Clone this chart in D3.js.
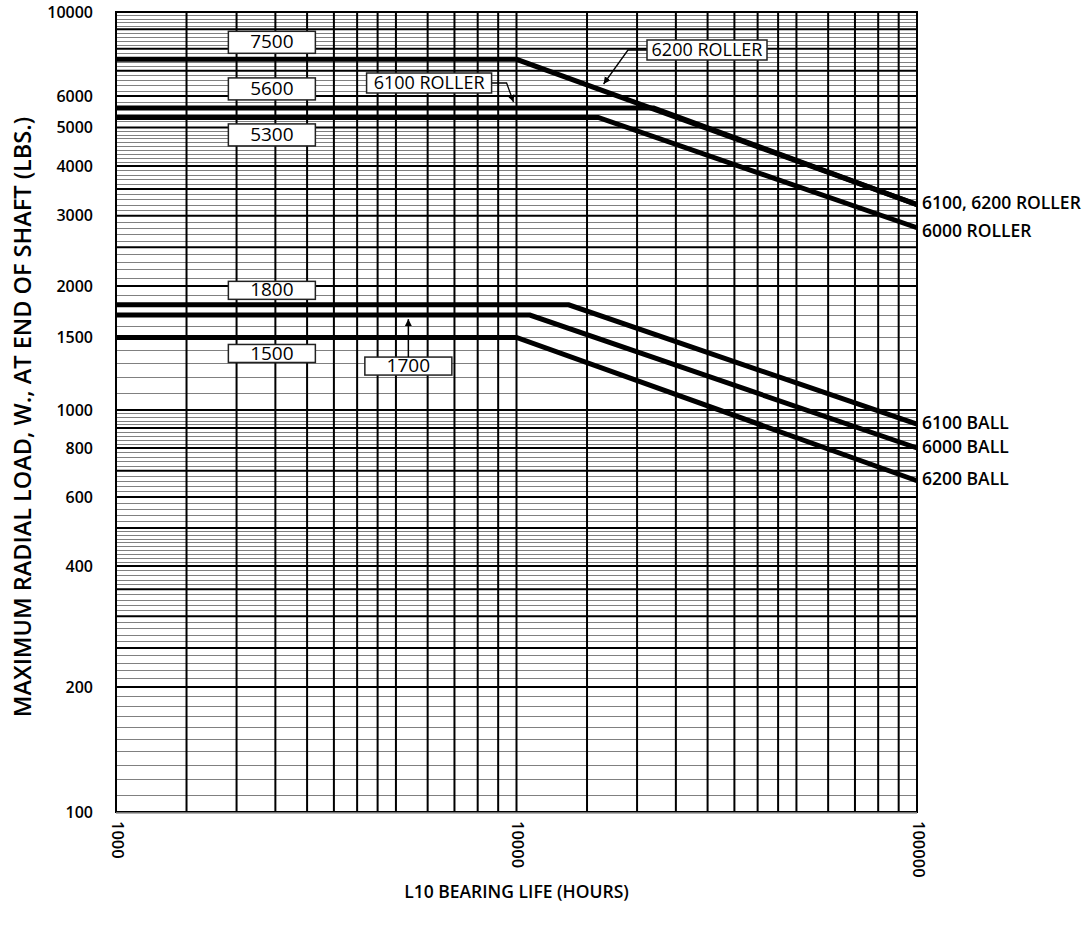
<!DOCTYPE html>
<html><head><meta charset="utf-8">
<script src="https://cdn.jsdelivr.net/npm/d3@7"></script>
<style>
body{margin:0;background:#fff}
text{font-family:"Open Sans","Noto Sans",sans-serif;fill:#000}
</style>
</head><body>
<svg id="chart" width="1088" height="930"></svg>
<script>
// ---------- DATA ----------
const xTickLabels = [1000, 10000, 100000];
const yTickLabels = [100, 200, 400, 600, 800, 1000, 1500, 2000, 3000, 4000, 5000, 6000, 10000];

// [hours, load] per bearing curve
const roller6200 = [[1000, 7500], [10000, 7500], [100000, 3200]];
const roller6100 = [[1000, 5600], [22000, 5600], [100000, 3200]];
const roller6000 = [[1000, 5300], [16000, 5300], [100000, 2800]];
const ball6100   = [[1000, 1800], [13500, 1800], [100000, 920]];
const ball6000   = [[1000, 1700], [10800, 1700], [100000, 800]];
const ball6200   = [[1000, 1500], [10000, 1500], [100000, 660]];

const seriesNames = ["6200 ROLLER", "6100 ROLLER", "6000 ROLLER", "6100 BALL", "6000 BALL", "6200 BALL"];
const endLabels = ["6100, 6200 ROLLER", "6000 ROLLER", "6100 BALL", "6000 BALL", "6200 BALL"];
const endLabelValues = [3200, 2800, 920, 800, 660];
const plateauLabels = ["7500", "5600", "5300", "1800", "1500", "1700"];
const plateauValues = [7500, 5600, 5300, 1800, 1500, 1700];

// grid multipliers within a decade
const xGridSteps = [1, 1.5, 2, 2.5, 3, 3.5, 4, 4.5, 5, 6, 7, 8, 9];
const yMajorSteps = [1, 2, 2.5, 3, 3.5, 4, 5, 6, 7, 8, 9];

// ---------- SCALES ----------
const svg = d3.select("#chart");
const x = d3.scaleLog().domain([1000, 100000]).range([116, 917]);
// printed log paper: piecewise log scale following the printed ruling
const y = d3.scaleLog()
  .domain([100, 200, 400, 1000, 2000, 4000, 6000, 10000])
  .range([812, 687, 566, 410, 286, 166, 96, 12]);

// ---------- GRID ----------
const decadesX = [1000, 10000];
const xGrid = [];
decadesX.forEach(d => xGridSteps.forEach(s => xGrid.push(d * s)));
xGrid.push(100000);

const decadesY = [100, 1000];
const yMajor = [];
decadesY.forEach(d => yMajorSteps.forEach(s => yMajor.push(d * s)));
yMajor.push(10000);

const yMinor = [];
decadesY.forEach(d => {
  for (let i = 11; i < 50; i++) if (!yMajorSteps.includes(i / 10)) yMinor.push(d * i / 10);
  for (let i = 52; i < 100; i += 2) if (!yMajorSteps.includes(i / 10)) yMinor.push(d * i / 10);
});

const grid = svg.append("g");
grid.selectAll(".ymin").data(yMinor).join("line")
  .attr("x1", x(1000)).attr("x2", x(100000))
  .attr("y1", d => Math.round(y(d)) + 0.5).attr("y2", d => Math.round(y(d)) + 0.5)
  .attr("stroke", "#808080").attr("stroke-width", 1);
grid.selectAll(".ymaj").data(yMajor).join("line")
  .attr("x1", x(1000)).attr("x2", x(100000))
  .attr("y1", d => y(d)).attr("y2", d => y(d))
  .attr("stroke", "#000").attr("stroke-width", 2);
grid.selectAll(".xg").data(xGrid).join("line")
  .attr("x1", d => x(d)).attr("x2", d => x(d))
  .attr("y1", y(10000)).attr("y2", y(100))
  .attr("stroke", "#000").attr("stroke-width", 2);
// frame
svg.append("rect").attr("x", x(1000)).attr("y", y(10000))
  .attr("width", x(100000) - x(1000)).attr("height", y(100) - y(10000))
  .attr("fill", "none").attr("stroke", "#000").attr("stroke-width", 2);
svg.append("line").attr("x1", x(1000)).attr("x2", x(100000))
  .attr("y1", y(100) + 1).attr("y2", y(100) + 1)
  .attr("stroke", "#999").attr("stroke-width", 1.5);

// ---------- AXES LABELS ----------
const yAxis = d3.axisLeft(y).tickValues(yTickLabels).tickFormat(d3.format("d")).tickSize(0).tickPadding(23);
const gy = svg.append("g").attr("transform", `translate(${x(1000)},0)`).call(yAxis);
gy.select(".domain").remove();
gy.selectAll("text").attr("font-size", 16).attr("font-weight", 600)
  .attr("font-family", '"Open Sans","Noto Sans",sans-serif').attr("fill", "#000");

const gx = svg.append("g");
gx.selectAll("text").data(xTickLabels).join("text")
  .attr("transform", d => `translate(${x(d)},${y(100) + 9}) rotate(90)`)
  .attr("dominant-baseline", "middle").attr("font-size", 16.5).attr("font-weight", 600)
  .text(d => d);

svg.append("text").attr("transform", `translate(25,${(y(10000) + y(100)) / 2 + 5}) rotate(-90)`)
  .attr("text-anchor", "middle").attr("dominant-baseline", "middle")
  .attr("font-size", 23.5).attr("font-weight", 600)
  .text("MAXIMUM RADIAL LOAD, W., AT END OF SHAFT (LBS.)");
svg.append("text").attr("x", (x(1000) + x(100000)) / 2).attr("y", 893)
  .attr("text-anchor", "middle").attr("dominant-baseline", "middle")
  .attr("font-size", 17.5).attr("font-weight", 600)
  .text("L10 BEARING LIFE (HOURS)");

// ---------- CURVES ----------
const allSeries = [roller6200, roller6100, roller6000, ball6100, ball6000, ball6200];
const line = d3.line().x(d => x(d[0])).y(d => y(d[1]));
svg.append("g").selectAll("path").data(allSeries).join("path")
  .attr("d", line).attr("fill", "none").attr("stroke", "#000")
  .attr("stroke-width", 5).attr("stroke-linejoin", "miter");

// end labels
svg.append("g").selectAll("text").data(endLabels).join("text")
  .attr("x", x(100000) + 5)
  .attr("y", (d, i) => y(endLabelValues[i]) + (i === 1 ? 5 : 0))
  .attr("dominant-baseline", "middle").attr("font-size", 17.5).attr("font-weight", 600)
  .text(d => d);

// ---------- ANNOTATION BOXES ----------
const defs = svg.append("defs");
defs.append("marker").attr("id", "arr").attr("viewBox", "0 0 10 10")
  .attr("refX", 10).attr("refY", 5).attr("markerWidth", 7).attr("markerHeight", 9)
  .attr("orient", "auto-start-reverse").attr("markerUnits", "userSpaceOnUse")
  .append("path").attr("d", "M0,0 L10,5 L0,10 z").attr("fill", "#000");

const boxCenterX = x(2450);
const boxOffsets = [-17, -19, 17.5, -14.5, 16, 0];
const boxHeights = [22, 22, 22, 18, 18, 18];
const ann = svg.append("g");
plateauLabels.forEach((t, i) => {
  let cx = boxCenterX, cy = y(plateauValues[i]) + boxOffsets[i];
  if (t === "1700") { cx = x(5370); cy = y(plateauValues[i]) + 51; }
  ann.append("rect").attr("x", cx - 43.5).attr("y", cy - boxHeights[i] / 2)
    .attr("width", 87).attr("height", boxHeights[i])
    .attr("fill", "#fff").attr("stroke", "#222").attr("stroke-width", 1.5);
  ann.append("text").attr("x", cx).attr("y", cy + 1).attr("text-anchor", "middle")
    .attr("dominant-baseline", "middle").attr("font-size", 19).text(t);
  if (t === "1700") {
    ann.append("line").attr("x1", cx).attr("x2", cx)
      .attr("y1", cy - boxHeights[i] / 2).attr("y2", y(plateauValues[i]) + 4)
      .attr("stroke", "#000").attr("stroke-width", 1.5).attr("marker-end", "url(#arr)");
  }
});

// named curve call-outs
function callout(label, cxVal, cy, w, pts) {
  const cx = x(cxVal);
  ann.append("path").attr("d", d3.line()(pts))
    .attr("fill", "none").attr("stroke", "#000").attr("stroke-width", 1.3)
    .attr("marker-end", "url(#arr)");
  ann.append("rect").attr("x", cx - w / 2).attr("y", cy - 10).attr("width", w).attr("height", 20)
    .attr("fill", "#fff").attr("stroke", "#222").attr("stroke-width", 1.5);
  ann.append("text").attr("x", cx).attr("y", cy + 1).attr("text-anchor", "middle")
    .attr("dominant-baseline", "middle").attr("font-size", 18).text(label);
}
// 6100 ROLLER box pointing to the 5600 plateau near 10000 h
{
  const cx = x(6050), cy = 83, w = 125;
  const tipX = x(10000) - 3, tipY = y(5600) - 6;
  callout(seriesNames[1], 6050, cy, w, [[cx + w / 2, cy], [cx + w / 2 + 15, cy], [tipX, tipY]]);
}
// 6200 ROLLER box pointing to sloped 6200 line
{
  const cx = x(29900), cy = 50, w = 120;
  const tipX = x(16500), tipY = 84;
  callout(seriesNames[0], 29900, cy, w, [[cx - w / 2, cy], [cx - w / 2 - 19, cy], [tipX, tipY]]);
}
</script>
</body></html>
